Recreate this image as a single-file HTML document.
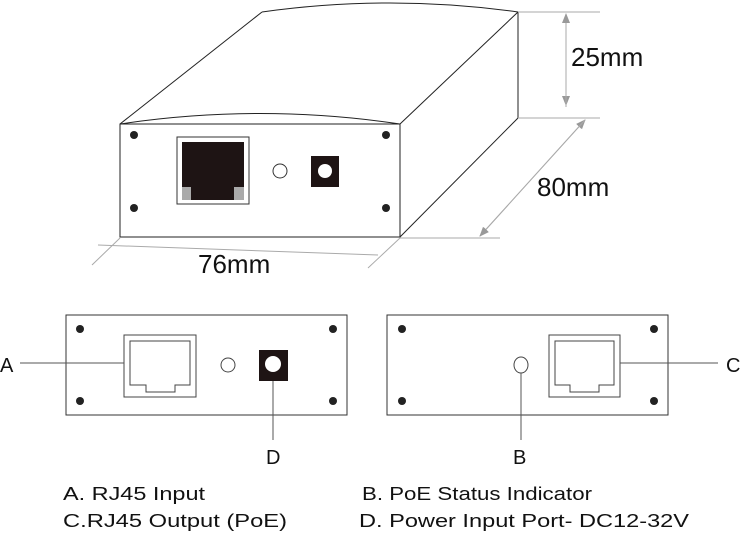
<!DOCTYPE html>
<html><head><meta charset="utf-8"><style>
html,body{margin:0;padding:0;background:#fff;}
svg{display:block;}
text{font-family:"Liberation Sans",sans-serif;fill:#111;}
</style></head><body>
<svg width="743" height="533" viewBox="0 0 743 533" xmlns="http://www.w3.org/2000/svg">
<defs>
<marker id="ar" markerWidth="10" markerHeight="10" refX="9" refY="5" orient="auto" markerUnits="userSpaceOnUse">
<path d="M0,1 L10,5 L0,9 Z" fill="#999"/></marker>
</defs>
<g fill="none" stroke="#222" stroke-width="1">
<path d="M120,124 L262,12"/>
<path d="M262,12 Q390,-6 518,12"/>
<path d="M518,12 L518,118"/>
<path d="M400,124 L518,12"/>
<path d="M400,237 L518,118"/>
<path d="M120,124 Q260,103 400,124"/>
<rect x="120" y="124" width="280" height="113"/>
</g>
<g fill="#222">
<circle cx="134" cy="135" r="4"/><circle cx="386" cy="135" r="4"/>
<circle cx="134" cy="208" r="4"/><circle cx="386" cy="208" r="4"/>
</g>
<rect x="177" y="137" width="72" height="67" fill="#fff" stroke="#333"/>
<rect x="182" y="142" width="62" height="58" fill="#1e1414"/>
<rect x="182" y="187" width="9" height="13" fill="#aaa"/>
<rect x="234" y="187" width="10" height="13" fill="#aaa"/>
<circle cx="280" cy="171" r="7" fill="none" stroke="#333"/>
<rect x="311" y="156" width="28" height="31" fill="#1e1414"/>
<circle cx="325" cy="171" r="7" fill="#fff"/>
<g stroke="#aaa" stroke-width="1" fill="none">
<line x1="518" y1="12" x2="600" y2="12"/>
<line x1="518" y1="118" x2="600" y2="118"/>
<line x1="566" y1="14" x2="566" y2="105" marker-end="url(#ar)"/>
<line x1="566" y1="107" x2="566" y2="14" marker-end="url(#ar)"/>
<line x1="400" y1="238" x2="500" y2="238"/>
<line x1="480" y1="236" x2="585" y2="120" marker-end="url(#ar)"/>
<line x1="585" y1="120" x2="480" y2="236" marker-end="url(#ar)"/>
<line x1="120" y1="238" x2="92" y2="265"/>
<line x1="400" y1="238" x2="368" y2="268"/>
<line x1="98" y1="245" x2="378" y2="255"/>
</g>
<text x="571" y="66" font-size="26">25mm</text>
<text x="537" y="196" font-size="26">80mm</text>
<text x="198" y="273" font-size="26">76mm</text>
<!-- panels -->
<g fill="none" stroke="#333">
<rect x="66" y="315" width="281" height="100"/>
<rect x="387" y="315" width="281" height="100"/>
</g>
<g fill="#222">
<circle cx="80" cy="329" r="4"/><circle cx="333" cy="329" r="4"/>
<circle cx="80" cy="401" r="4"/><circle cx="333" cy="401" r="4"/>
<circle cx="402" cy="329" r="4"/><circle cx="654" cy="329" r="4"/>
<circle cx="402" cy="401" r="4"/><circle cx="654" cy="401" r="4"/>
</g>
<g fill="none" stroke="#444">
<rect x="124" y="335" width="72" height="62"/>
<path d="M130,385 L130,341 L190,341 L190,385 L175,385 L175,392 L146,392 L146,385 Z"/>
<rect x="549" y="335" width="71" height="62"/>
<path d="M555,385 L555,341 L614,341 L614,385 L599,385 L599,392 L570,392 L570,385 Z"/>
<circle cx="228" cy="365" r="7"/>
<ellipse cx="521" cy="365" rx="7" ry="8"/>
</g>
<rect x="259" y="350" width="29" height="31" fill="#1e1414"/>
<circle cx="273" cy="364" r="8" fill="#fff"/>
<g stroke="#555" stroke-width="1">
<line x1="20" y1="363" x2="124" y2="363"/>
<line x1="273" y1="381" x2="273" y2="440"/>
<line x1="521" y1="373" x2="521" y2="440"/>
<line x1="620" y1="363" x2="718" y2="363"/>
</g>
<text x="0" y="372" font-size="20">A</text>
<text x="726" y="372" font-size="20">C</text>
<text x="266" y="464" font-size="20">D</text>
<text x="513" y="464" font-size="20">B</text>
<text x="63" y="500" font-size="18" textLength="142" lengthAdjust="spacingAndGlyphs">A. RJ45 Input</text>
<text x="63" y="527" font-size="18" textLength="224" lengthAdjust="spacingAndGlyphs">C.RJ45 Output (PoE)</text>
<text x="362" y="500" font-size="18" textLength="230" lengthAdjust="spacingAndGlyphs">B. PoE Status Indicator</text>
<text x="359" y="527" font-size="18" textLength="330" lengthAdjust="spacingAndGlyphs">D. Power Input Port- DC12-32V</text>
</svg>
</body></html>
